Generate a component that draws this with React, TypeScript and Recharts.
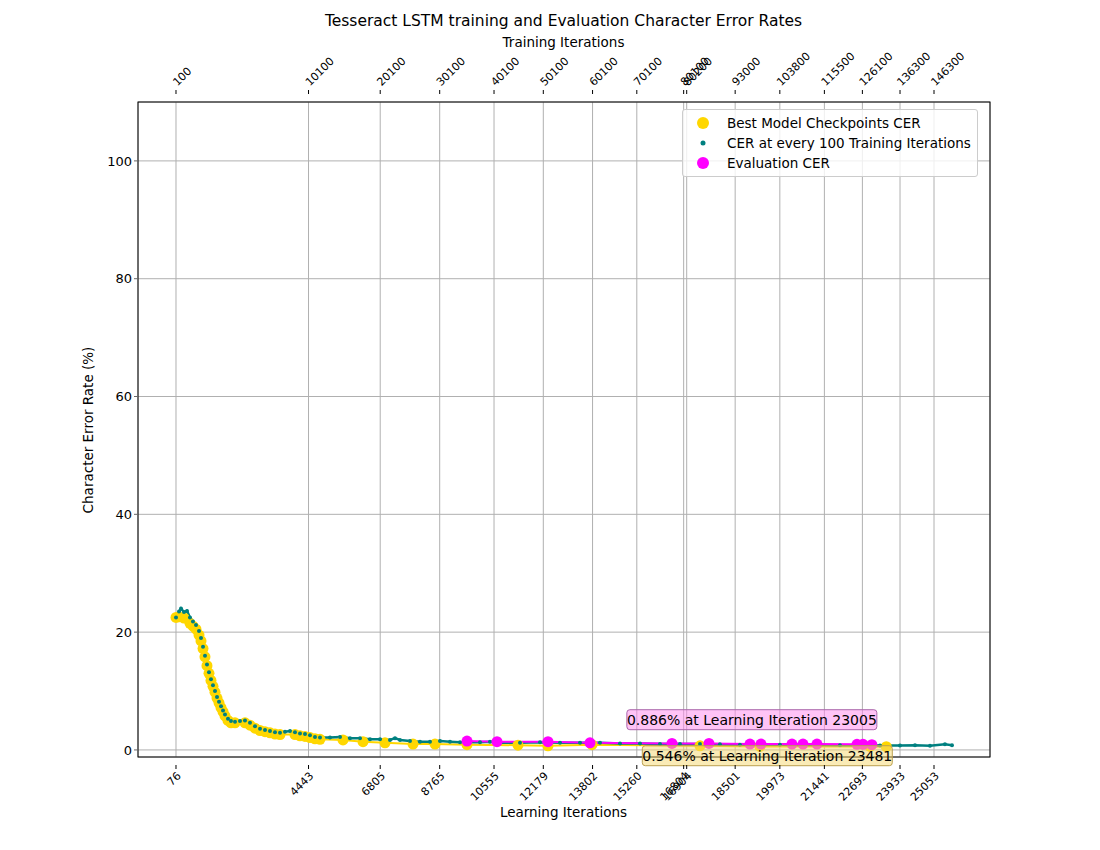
import { ComposedChart, Line, XAxis, YAxis, CartesianGrid, ReferenceDot } from 'recharts';

const learningTicks = [76, 4443, 6805, 8765, 10555, 12179, 13802, 15260, 16804, 16904, 18501, 19973, 21441, 22693, 23933, 25053];
const trainingTicks = ['100', '10100', '20100', '30100', '40100', '50100', '60100', '70100', '80100', '80200', '93000', '103800', '115500', '126100', '136300', '146300'];
const yTicks = [0, 20, 40, 60, 80, 100];

const cerIter = [76, 176, 241, 340, 439, 537, 636, 735, 834, 900, 966, 1031, 1097, 1163, 1229, 1295, 1361, 1427, 1493, 1559, 1625, 1690, 1789, 1888, 2020, 2185, 2349, 2514, 2679, 2844, 3009, 3173, 3338, 3503, 3668, 3832, 3997, 4162, 4327, 4491, 4656, 4821, 5150, 5480, 5809, 6139, 6468, 6798, 7127, 7292, 7457, 7786, 8116, 8445, 8775, 9104, 9434, 9763, 10093, 10422, 10752, 11411, 12070, 12729, 13388, 14047, 14706, 15365, 16024, 16683, 17342, 17999, 18659, 19318, 19977, 20636, 21296, 21955, 22614, 23273, 23932, 24426, 24920, 25414, 25645];
const cerValues = [22.5, 23.5, 24.0, 23.4, 23.6, 22.5, 21.8, 21.2, 20.2, 19.0, 17.5, 16.0, 14.5, 13.2, 12.0, 11.0, 10.0, 9.0, 8.2, 7.4, 6.7, 6.0, 5.3, 4.9, 4.8, 4.9, 5.0, 4.6, 4.0, 3.6, 3.4, 3.2, 3.0, 2.9, 3.1, 3.2, 3.0, 2.8, 2.7, 2.5, 2.2, 2.1, 2.1, 2.2, 2.0, 2.0, 1.8, 1.8, 1.7, 2.0, 1.7, 1.5, 1.4, 1.4, 1.5, 1.4, 1.3, 1.3, 1.3, 1.4, 1.2, 1.2, 1.3, 1.2, 1.2, 1.2, 1.1, 1.1, 1.0, 1.0, 1.0, 0.95, 0.9, 0.9, 0.9, 0.85, 0.85, 0.8, 0.8, 0.75, 0.75, 0.8, 0.7, 0.95, 0.8];

const bestIter = [76, 176, 340, 537, 636, 735, 834, 900, 966, 1031, 1097, 1163, 1229, 1295, 1361, 1427, 1493, 1559, 1625, 1690, 1789, 1888, 2020, 2349, 2514, 2679, 2844, 3009, 3173, 3338, 3503, 3997, 4162, 4327, 4491, 4656, 4821, 5579, 6238, 6963, 7886, 8610, 9665, 11345, 12333, 13783, 17342, 19318, 22943, 23481];
const bestValues = [22.5, 22.6, 22.4, 21.5, 21.0, 20.5, 19.5, 18.5, 17.2, 15.8, 14.3, 13.0, 11.8, 10.8, 9.8, 8.8, 8.0, 7.2, 6.5, 5.8, 5.0, 4.6, 4.6, 4.6, 4.2, 3.7, 3.3, 3.1, 2.9, 2.7, 2.6, 2.6, 2.4, 2.3, 2.1, 1.9, 1.8, 1.7, 1.4, 1.2, 1.0, 1.0, 0.9, 0.8, 0.7, 0.9, 0.7, 0.6, 0.6, 0.546];

const evalIter = [9665, 10653, 12333, 13717, 16419, 17638, 18989, 19352, 20373, 20736, 21197, 22515, 22713, 23005];
const evalValues = [1.5, 1.4, 1.4, 1.2, 1.1, 1.1, 1.0, 1.0, 1.0, 1.0, 1.0, 0.95, 0.95, 0.886];

const cerData = cerIter.map((x, i) => ({ x, y: cerValues[i] }));
const bestData = bestIter.map((x, i) => ({ x, y: bestValues[i] }));
const evalData = evalIter.map((x, i) => ({ x, y: evalValues[i] }));

const font = 'DejaVu Sans, sans-serif';

const BottomTick = (props: any) => {
  const { x, y, payload } = props;
  return (
    <g transform={`translate(${x},${y + 6})`}>
      <line x1={0} y1={-6} x2={0} y2={-2} stroke="#000" />
      <text transform="rotate(-45)" textAnchor="end" dy={8} fontSize={11} fontFamily={font} fill="#000">{payload.value}</text>
    </g>
  );
};

const TopTick = (props: any) => {
  const { x, y, index } = props;
  return (
    <g transform={`translate(${x},${y - 6})`}>
      <line x1={0} y1={6} x2={0} y2={2} stroke="#000" />
      <text transform="rotate(-45)" textAnchor="start" dx={2} fontSize={11} fontFamily={font} fill="#000">{trainingTicks[index]}</text>
    </g>
  );
};

const Note = (fill: string, stroke: string, text: string, dx: number, dy: number) => (props: any) => {
  const { viewBox } = props;
  const cx = viewBox.x + viewBox.width / 2 + dx;
  const cy = viewBox.y + viewBox.height / 2 + dy;
  const w = 250;
  return (
    <g>
      <rect x={cx - w / 2} y={cy - 10} width={w} height={20} rx={3} fill={fill} fillOpacity={0.5} stroke={stroke} />
      <text x={cx} y={cy + 5} textAnchor="middle" fontSize={14} fontFamily={font} fill="#000">{text}</text>
    </g>
  );
};

const legendItems = [
  ['#FFD700', 6, 'Best Model Checkpoints CER'],
  ['#008080', 2.5, 'CER at every 100 Training Iterations'],
  ['#FF00FF', 6, 'Evaluation CER'],
];

export default function App() {
  return (
    <div style={{ position: 'absolute', left: 0, top: 0, width: 1100, height: 850, background: '#fff', fontFamily: font }}>
      <div style={{ position: 'absolute', top: 12, width: 1127, textAlign: 'center', fontSize: 15.5 }}>Tesseract LSTM training and Evaluation Character Error Rates</div>
      <div style={{ position: 'absolute', top: 34, width: 1127, textAlign: 'center', fontSize: 13.5 }}>Training Iterations</div>
      <div style={{ position: 'absolute', top: 804, width: 1127, textAlign: 'center', fontSize: 13.5 }}>Learning Iterations</div>
      <div style={{ position: 'absolute', left: 88, top: 430, transform: 'translate(-50%,-50%) rotate(-90deg)', fontSize: 13.5, whiteSpace: 'nowrap' }}>Character Error Rate (%)</div>
      <ComposedChart width={1100} height={850} margin={{ top: 52, right: 110, bottom: 43, left: 78 }}>
        <CartesianGrid xAxisId="bottom" stroke="#b0b0b0" strokeWidth={1} />
        <XAxis xAxisId="bottom" dataKey="x" type="number" domain={[-1176, 26898]} ticks={learningTicks} interval={0} height={50} axisLine={false} tickLine={false} tick={<BottomTick />} allowDataOverflow />
        <XAxis xAxisId="top" orientation="top" dataKey="x" type="number" domain={[-1176, 26898]} ticks={learningTicks} interval={0} height={50} axisLine={false} tickLine={false} tick={<TopTick />} allowDataOverflow />
        <YAxis type="number" domain={[-1.2, 110]} ticks={yTicks} width={60} axisLine={false} tickSize={4} tick={{ fontSize: 13, fill: '#000', fontFamily: font }} allowDataOverflow />
        <Line xAxisId="bottom" data={bestData} dataKey="y" stroke="#FFD700" strokeWidth={2} dot={{ r: 5.5, fill: '#FFD700', stroke: 'none' }} isAnimationActive={false} />
        <Line xAxisId="bottom" data={cerData} dataKey="y" stroke="#008080" strokeWidth={2.5} dot={{ r: 2, fill: '#008080', stroke: 'none' }} isAnimationActive={false} />
        <Line xAxisId="bottom" data={evalData} dataKey="y" stroke="#FF00FF" strokeWidth={2} dot={{ r: 5.5, fill: '#FF00FF', stroke: 'none' }} isAnimationActive={false} />
        <ReferenceDot xAxisId="bottom" x={23005} y={0.886} r={0} label={Note('#FF88EE', '#aa66aa', '0.886% at Learning Iteration 23005', -120, -25)} />
        <ReferenceDot xAxisId="bottom" x={23481} y={0.546} r={0} label={Note('#F5D76E', '#bba050', '0.546% at Learning Iteration 23481', -119, 9)} />
        <rect x={138} y={102} width={852} height={655} fill="none" stroke="#000" />
      </ComposedChart>
      <div style={{ position: 'absolute', left: 682, top: 109, border: '1px solid #ccc', borderRadius: 3, background: 'rgba(255,255,255,0.8)', padding: '3px 6px 3px 2px', fontSize: 13.5, lineHeight: '20px' }}>
        {legendItems.map(([c, r, t]) => (
          <div key={t as string} style={{ display: 'flex', alignItems: 'center' }}>
            <svg width={36} height={14}><circle cx={18} cy={7} r={r as number} fill={c as string} /></svg>
            <span style={{ marginLeft: 6 }}>{t}</span>
          </div>
        ))}
      </div>
    </div>
  );
}
